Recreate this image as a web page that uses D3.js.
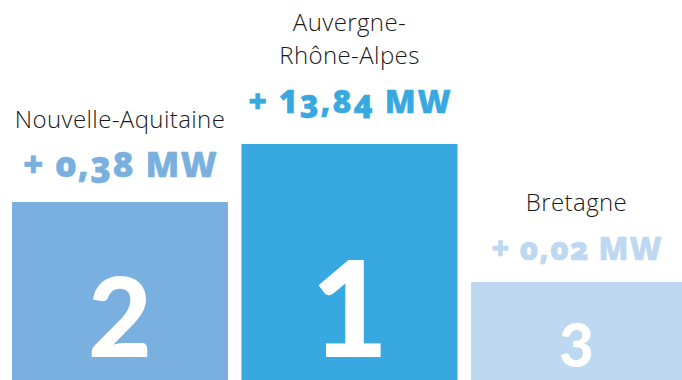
<!DOCTYPE html>
<html>
<head>
<meta charset="utf-8">
<script src="https://cdn.jsdelivr.net/npm/d3@7"></script>
<style>
  html, body { margin: 0; padding: 0; background: #fff; }
  svg { display: block; }
  .label { font-family: "Open Sans", Lato, sans-serif; font-weight: 300; fill: #1a1a1a; letter-spacing: 0.4px; }
  .value { font-family: "Open Sans", Lato, sans-serif; font-weight: 800; font-feature-settings: "onum" 1; stroke-width: 0.4px; stroke-linejoin: round; }
  .value .tall { font-feature-settings: "lnum" 1; }
  .rank { font-family: Lato, sans-serif; font-weight: 900; fill: #fff; }
</style>
</head>
<body>
<div id="chart"></div>
<script>
// Podium of regional capacity gains
const regions = ["Nouvelle-Aquitaine", "Auvergne-Rhône-Alpes", "Bretagne"];
const labelLines = [["Nouvelle-Aquitaine"], ["Auvergne-", "Rhône-Alpes"], ["Bretagne"]];
const gains = [0.38, 13.84, 0.02];
const ranks = [2, 1, 3];
const unit = "MW";

const width = 682, height = 380;

const fr = d3.formatLocale({ decimal: ",", thousands: "\u00a0", grouping: [3], currency: ["", " €"] });
const fmt = fr.format(".2f");

const data = regions.map((r, i) => ({ region: r, lines: labelLines[i], gain: gains[i], rank: ranks[i] }));

const svg = d3.select("#chart").append("svg")
  .attr("width", width).attr("height", height);

// columns laid out left to right; the last one runs past the edge
const x = d3.scaleBand().domain(regions).range([12, 687]).paddingInner(13.5 / 229.5).paddingOuter(0);

// step height of each podium by rank
const podium = d3.scaleOrdinal().domain([1, 2, 3]).range([144, 202, 282]);
const colour = d3.scaleOrdinal().domain([1, 2, 3]).range(["#38a9e0", "#7ab0e0", "#bed8f1"]);
const valueSize = d3.scaleOrdinal().domain([1, 2, 3]).range([32, 35, 31]);
const valueTrack = d3.scaleOrdinal().domain([1, 2, 3]).range([1.8, 1.3, 1.0]);
const valueGap = d3.scaleOrdinal().domain([1, 2, 3]).range([31, 25, 22]);
const rankSize = d3.scaleOrdinal().domain([1, 2, 3]).range([134, 110, 60]);
const rankLift = d3.scaleOrdinal().domain([1, 2, 3]).range([23, 23, 13]);

// centre of the visible part of a column
const cx = d => {
  const x0 = x(d.region), x1 = Math.min(x0 + x.bandwidth(), width);
  return (x0 + x1) / 2;
};

const g = svg.selectAll("g.col").data(data).join("g").attr("class", "col");

g.append("rect")
  .attr("x", d => x(d.region))
  .attr("y", d => podium(d.rank))
  .attr("width", x.bandwidth())
  .attr("height", d => height - podium(d.rank))
  .attr("fill", d => colour(d.rank));

g.append("text")
  .attr("class", "rank")
  .attr("x", cx)
  .attr("y", d => height - rankLift(d.rank))
  .attr("text-anchor", "middle")
  .attr("font-size", d => rankSize(d.rank))
  .text(d => d.rank);

// value line: old-style figures, with the digit one kept at full height
g.append("text")
  .attr("class", "value")
  .attr("x", d => cx(d) + valueTrack(d.rank) / 2)
  .attr("y", d => podium(d.rank) - valueGap(d.rank))
  .attr("text-anchor", "middle")
  .attr("font-size", d => valueSize(d.rank))
  .attr("letter-spacing", d => valueTrack(d.rank))
  .attr("fill", d => colour(d.rank))
  .attr("stroke", d => colour(d.rank))
  .selectAll("tspan")
  .data(d => Array.from("+ " + fmt(d.gain) + " " + unit))
  .join("tspan")
  .attr("class", c => c === "1" ? "tall" : null)
  .text(c => c);

g.each(function(d) {
  const base = podium(d.rank) - valueGap(d.rank) - 49;
  const n = d.lines.length;
  d3.select(this).append("text")
    .attr("class", "label")
    .attr("text-anchor", "middle")
    .attr("font-size", 24)
    .selectAll("tspan").data(d.lines).join("tspan")
    .attr("x", cx(d))
    .attr("y", (t, i) => base - (n - 1 - i) * 33)
    .text(t => t);
});
</script>
</body>
</html>
